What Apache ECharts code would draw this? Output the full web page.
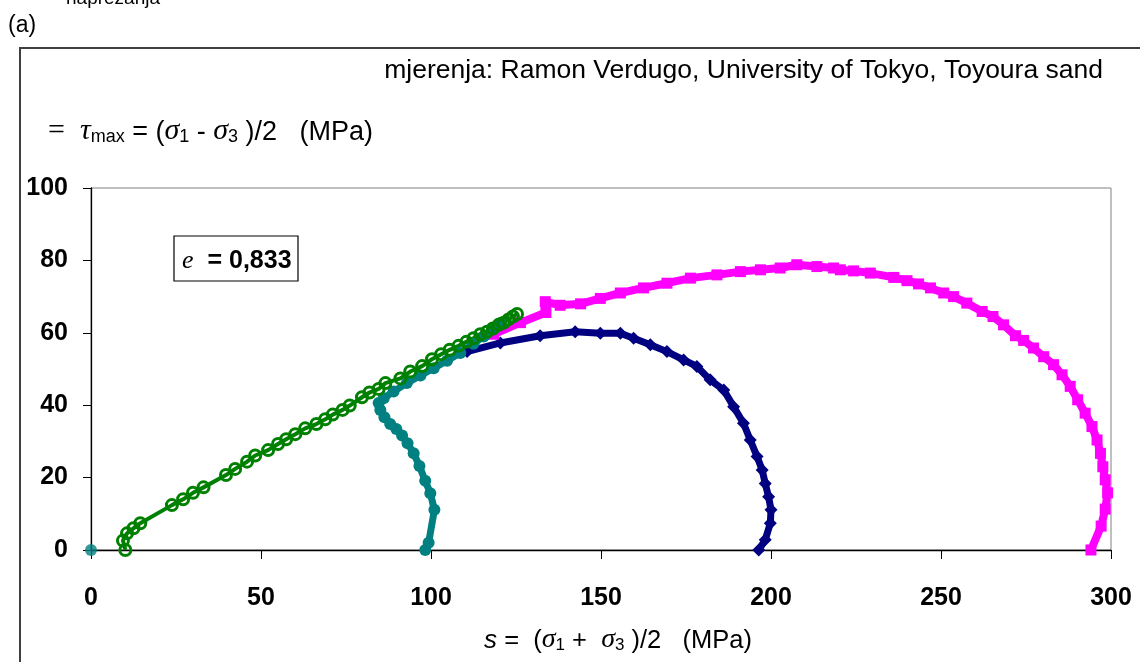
<!DOCTYPE html>
<html><head><meta charset="utf-8">
<script src="https://cdn.jsdelivr.net/npm/echarts@6/dist/echarts.min.js"></script>
<style>html,body{margin:0;padding:0;background:#fff}#c{width:1140px;height:662px}</style>
</head><body><div id="c"></div>
<script>
// ---- data (s, t) in MPa ----
const xTicks = [0, 50, 100, 150, 200, 250, 300];
const yTicks = [0, 20, 40, 60, 80, 100];

const tealOrigin = [[0, 0]];

const tealPath = [
  [98.3,0],[99.3,2.0],[101.0,11.1],[99.8,15.7],[98.3,19.1],[96.6,23.2],[94.9,26.7],
  [93.1,29.5],[91.5,31.6],[89.8,33.4],[88.0,34.8],[86.3,36.7],[85.1,38.7],[84.6,40.6],
  [86.1,41.9],[89.0,43.8],[92.9,46.1],[96.9,48.2],[100.8,50.2],[104.7,52.3],[108.6,54.4],
  [112.5,57.0],[115.5,59.0],[118.4,61.0],[120.4,62.7]
];

const greenPath = [
  [10.1,0],[9.4,2.6],[10.6,4.6],[12.5,6.0],[14.5,7.4],[23.8,12.4],[27.1,14.0],[30.0,15.8],
  [33.1,17.3],[39.7,20.7],[42.4,22.4],[45.9,24.4],[48.3,26.1],[52.1,27.6],[55.0,29.3],
  [57.4,30.6],[60.1,32.0],[63.0,33.6],[66.3,34.8],[68.9,36.1],[71.1,37.4],[74.0,38.7],
  [76.1,39.9],[79.7,42.2],[81.9,43.5],[84.6,44.5],[86.6,46.1],[91.0,47.4],[93.9,49.3],
  [97.4,50.8],[100.3,52.7],[103.0,54.1],[105.5,55.3],[108.1,56.4],[110.4,57.5],[112.5,58.5],
  [114.5,59.6],[116.5,60.3],[118.2,61.2],[119.9,62.2],[121.4,62.8],[122.8,63.7],[124.1,64.5],
  [125.3,65.2]
];

const navyPath = [
  [196.4,0],[198.3,2.8],[199.8,7.4],[200.0,11.1],[199.3,14.7],[198.3,18.4],[197.4,22.1],
  [195.9,25.8],[193.9,30.4],[191.9,35.0],[189.0,39.6],[186.1,44.2],[182.1,47.0],[178.2,50.7],
  [174.3,52.5],[169.4,54.8],[164.5,56.7],[159.6,58.5],[155.7,59.9],[149.8,59.9],[142.4,60.3],
  [132.1,59.2],[120.4,57.2],[110.6,54.8]
];

const magentaPath = [
  [294.1,0],[297.1,6.6],[298.3,11.3],[299.0,15.8],[298.3,19.4],[297.6,23.0],[296.9,26.7],
  [295.9,30.4],[294.4,34.1],[292.4,37.8],[290.2,41.5],[288.0,45.2],[285.6,48.4],[283.1,51.2],
  [280.2,53.4],[277.2,55.8],[274.3,57.9],[271.9,59.2],[268.4,62.2],[265.3,64.5],[262.1,65.9],
  [257.6,68.2],[253.7,70.0],[250.8,71.0],[246.9,72.4],[243.4,73.5],[240.0,74.4],[236.1,75.3],
  [229.2,76.5],[224.3,77.1],[220.4,77.4],[218.4,77.9],[213.5,78.3],[207.6,78.8],[202.7,77.9],
  [196.9,77.4],[191.0,76.9],[184.1,76.0],[176.3,75.1],[169.4,73.7],[162.5,72.4],[155.7,71.0],
  [149.8,69.5],[144.0,68.0],[138.0,67.6],[133.6,68.6],[133.8,65.6],[126.3,62.8],[118.4,59.6]
];

const SANS = 'Liberation Sans, Arial, sans-serif';
const SERIF = 'Liberation Serif, Times New Roman, serif';

const chart = echarts.init(document.getElementById('c'), null, {renderer: 'canvas'});

const option = {
  animation: false,
  backgroundColor: '#fff',
  grid: {left: 91, right: 29, top: 188, bottom: 112, show: true, borderColor: '#808080', borderWidth: 1, backgroundColor: 'transparent'},
  xAxis: {
    type: 'value', min: xTicks[0], max: xTicks[xTicks.length - 1], interval: 50,
    splitLine: {show: false},
    axisLine: {show: true, onZero: false, lineStyle: {color: '#000', width: 1.3}},
    axisTick: {show: true, length: 9, lineStyle: {color: '#000', width: 1}},
    axisLabel: {color: '#000', fontFamily: SANS, fontWeight: 'bold', fontSize: 25, margin: 36}
  },
  yAxis: {
    type: 'value', min: yTicks[0], max: yTicks[yTicks.length - 1], interval: 20,
    splitLine: {show: false},
    axisLine: {show: true, onZero: false, lineStyle: {color: '#000', width: 1.3}},
    axisTick: {show: true, length: 8, lineStyle: {color: '#000', width: 1}},
    axisLabel: {color: '#000', fontFamily: SANS, fontWeight: 'bold', fontSize: 25, margin: 23}
  },
  series: [
    {
      type: 'line', data: navyPath, symbol: 'diamond', symbolSize: 13, clip: false,
      lineStyle: {color: '#000080', width: 7}, itemStyle: {color: '#000080'}
    },
    {
      type: 'line', data: magentaPath, symbol: 'rect', symbolSize: 11, clip: false,
      lineStyle: {color: '#FF00FF', width: 8}, itemStyle: {color: '#FF00FF'}
    },
    {
      type: 'line', data: tealPath, symbol: 'circle', symbolSize: 12, clip: false,
      lineStyle: {color: '#008080', width: 7}, itemStyle: {color: '#008080'}
    },
    {
      type: 'line', data: greenPath, symbol: 'circle', symbolSize: 11, clip: false,
      lineStyle: {color: '#008000', width: 4},
      itemStyle: {color: 'rgba(255,255,255,0)', borderColor: '#008000', borderWidth: 3}
    },
    {
      type: 'scatter', data: tealOrigin, symbol: 'circle', symbolSize: 12, clip: false,
      itemStyle: {color: '#008080'}
    }
  ],
  graphic: [
    {type: 'rect', shape: {x: 20, y: 48, width: 1200, height: 700}, style: {fill: 'none', stroke: '#404040', lineWidth: 2}, z: 0},
    {type: 'text', x: 66, y: 8, style: {text: 'naprezanja', font: '19px ' + SANS, fill: '#000', textVerticalAlign: 'bottom'}},
    {type: 'text', x: 8, y: 26, style: {text: '(a)', font: '23px ' + SANS, fill: '#000', textVerticalAlign: 'middle'}},
    {type: 'text', x: 1103, y: 71, style: {text: 'mjerenja: Ramon Verdugo, University of Tokyo, Toyoura sand', font: '26.5px ' + SANS, fill: '#000', textAlign: 'right', textVerticalAlign: 'middle'}},
    {type: 'text', x: 48, y: 130, style: {
      text: '{q|=}{t|  }{g|τ}{s|max}{t| = (}{g|σ}{s|1}{t| - }{g|σ}{s|3}{t| )/2   (MPa)}',
      textVerticalAlign: 'middle', fill: '#000',
      rich: {
        q: {fontFamily: SERIF, fontSize: 30, lineHeight: 32, verticalAlign: 'bottom', color: '#000'},
        t: {fontFamily: SANS, fontSize: 27, lineHeight: 32, verticalAlign: 'bottom', color: '#000'},
        g: {fontFamily: SERIF, fontStyle: 'italic', fontSize: 30, lineHeight: 32, verticalAlign: 'bottom', color: '#000'},
        s: {fontFamily: SANS, fontSize: 18, lineHeight: 20, verticalAlign: 'bottom', color: '#000'}
      }
    }},
    {type: 'rect', shape: {x: 174, y: 236, width: 124, height: 45}, style: {fill: '#fff', stroke: '#000', lineWidth: 1.2}},
    {type: 'text', x: 182, y: 259, style: {
      text: '{e|e}{b|  = 0,833}', textVerticalAlign: 'middle', fill: '#000',
      rich: {
        e: {fontFamily: SERIF, fontStyle: 'italic', fontSize: 26, lineHeight: 30, verticalAlign: 'bottom', color: '#000'},
        b: {fontFamily: SANS, fontWeight: 'bold', fontSize: 25, lineHeight: 30, verticalAlign: 'bottom', color: '#000'}
      }
    }},
    {type: 'text', x: 618, y: 638, style: {
      text: '{i|s}{t| =  (}{g|σ}{s|1}{t| +  }{g|σ}{s|3}{t| )/2   (MPa)}',
      textAlign: 'center', textVerticalAlign: 'middle', fill: '#000',
      rich: {
        i: {fontFamily: SANS, fontStyle: 'italic', fontSize: 26, lineHeight: 32, verticalAlign: 'bottom', color: '#000'},
        t: {fontFamily: SANS, fontSize: 25.5, lineHeight: 32, verticalAlign: 'bottom', color: '#000'},
        g: {fontFamily: SERIF, fontStyle: 'italic', fontSize: 28, lineHeight: 32, verticalAlign: 'bottom', color: '#000'},
        s: {fontFamily: SANS, fontSize: 17, lineHeight: 20, verticalAlign: 'bottom', color: '#000'}
      }
    }}
  ]
};
chart.setOption(option);
</script>
</body></html>
